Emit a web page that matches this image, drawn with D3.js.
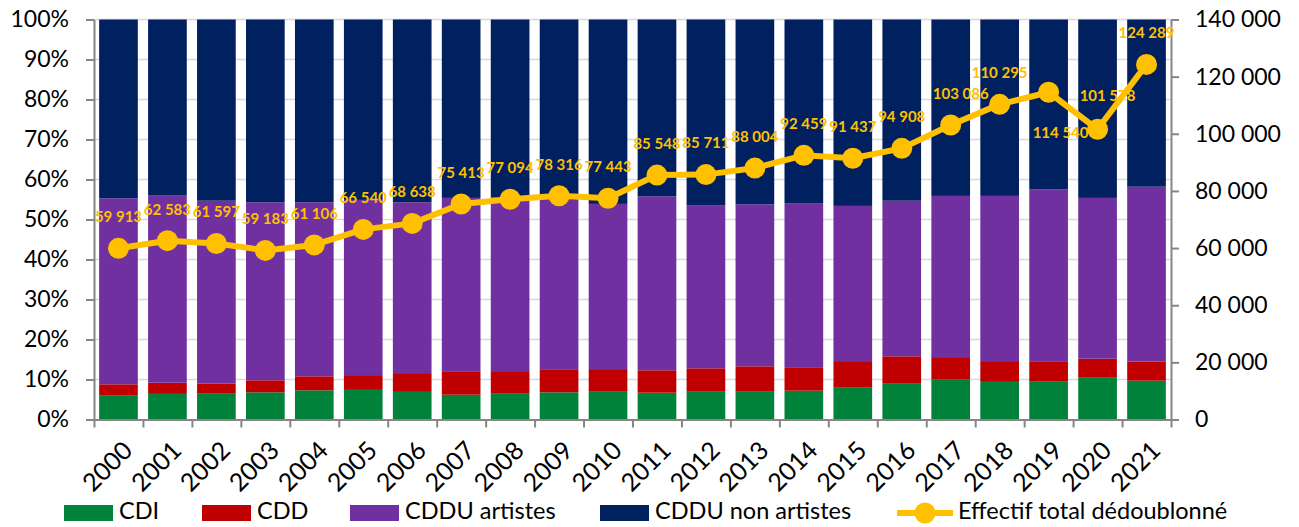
<!DOCTYPE html>
<html lang="fr">
<head>
<meta charset="utf-8">
<script src="https://cdn.jsdelivr.net/npm/d3@7"></script>
<style>
  html, body { margin: 0; padding: 0; background: #fff; }
  svg { display: block; font-family: Lato, "Open Sans", sans-serif; }
</style>
</head>
<body>
<svg id="chart" width="1299" height="527"></svg>
<script>
// Years on the x axis
const years = ["2000","2001","2002","2003","2004","2005","2006","2007","2008","2009","2010",
               "2011","2012","2013","2014","2015","2016","2017","2018","2019","2020","2021"];

// Share of each contract type (in %), stacked bottom to top
const cdi          = [6.1, 6.4, 6.6, 6.8, 7.3, 7.4, 6.9, 6.2, 6.6, 6.8, 7.1, 6.7, 7.1, 7.1, 7.2, 8.1, 9.1, 10.1, 9.4, 9.6, 10.6, 9.7];
const cdd          = [2.7, 2.8, 2.4, 3.0, 3.5, 3.7, 4.7, 5.7, 5.5, 5.6, 5.5, 5.6, 5.7, 6.2, 5.7, 6.5, 6.7, 5.5, 5.2, 4.8, 4.6, 4.8];
const cdduArt      = [46.5, 46.9, 45.7, 44.5, 43.5, 43.8, 42.7, 43.5, 43.4, 43.3, 41.3, 43.5, 40.8, 40.5, 41.2, 38.8, 38.9, 40.3, 41.3, 43.1, 40.2, 43.7];
const cdduNonArt   = [44.7, 43.9, 45.3, 45.7, 45.7, 45.1, 45.7, 44.6, 44.5, 44.3, 46.1, 44.2, 46.4, 46.2, 45.9, 46.6, 45.3, 44.1, 44.1, 42.5, 44.6, 41.8];

// Total headcount (right axis)
const effectif = [59913, 62583, 61597, 59183, 61106, 66540, 68638, 75413, 77094, 78316, 77443,
                  85548, 85711, 88004, 92459, 91437, 94908, 103086, 110295, 114540, 101578, 124289];

// Axis ticks
const pctTicks = [0, 0.1, 0.2, 0.3, 0.4, 0.5, 0.6, 0.7, 0.8, 0.9, 1];
const countTicks = [0, 20000, 40000, 60000, 80000, 100000, 120000, 140000];

// Series names and colours
const seriesNames  = ["CDI", "CDD", "CDDU artistes", "CDDU non artistes"];
const seriesColors = ["#00823B", "#C00000", "#7030A0", "#002060"];
const lineName = "Effectif total dédoublonné";
const lineColor = "#FFC000";

// Label nudges (px) for a few crowded points
const labelNudge = { "2017": [10, 0], "2019": [12, 72], "2020": [10, -2] };

const svg = d3.select("#chart");
const plotLeft = 94, plotRight = 1171, plotTop = 19.5, plotBottom = 419.5;
const FONT = 23;

const fr = d3.formatLocale({ decimal: ",", thousands: " ", grouping: [3], currency: ["", " €"] });
const fmtCount = fr.format(",d");

const x = d3.scaleBand().domain(years).range([plotLeft, plotRight]).paddingInner(0.21).paddingOuter(0.105);
const xEdge = d3.scaleLinear().domain([0, years.length]).range([plotLeft, plotRight]);
const yPct = d3.scaleLinear().domain([0, 1]).range([plotBottom, plotTop]);
const yCount = d3.scaleLinear().domain([0, 140000]).range([plotBottom, plotTop]);

// Stacked data (normalized to 100 %)
const rows = years.map((yr, i) => {
  const vals = [cdi[i], cdd[i], cdduArt[i], cdduNonArt[i]];
  const tot = d3.sum(vals);
  const r = { year: yr };
  seriesNames.forEach((n, k) => r[n] = vals[k] / tot);
  return r;
});
const stacked = d3.stack().keys(seriesNames)(rows);

// Horizontal gridlines
svg.append("g").selectAll("line").data(pctTicks.slice(1)).join("line")
  .attr("x1", plotLeft).attr("x2", plotRight)
  .attr("y1", d => yPct(d)).attr("y2", d => yPct(d))
  .attr("stroke", "#D9D9D9").attr("stroke-width", 1.5);

// Bars
svg.append("g").selectAll("g").data(stacked).join("g")
  .attr("fill", (d, i) => seriesColors[i])
  .selectAll("rect").data(d => d).join("rect")
  .attr("x", d => x(d.data.year))
  .attr("width", x.bandwidth())
  .attr("y", d => yPct(d[1]))
  .attr("height", d => yPct(d[0]) - yPct(d[1]));

// Axes
const axisColor = "#868686";
function styleAxis(g) {
  g.selectAll(".domain").attr("stroke", axisColor).attr("stroke-width", 2);
  g.selectAll(".tick line").attr("stroke", axisColor).attr("stroke-width", 2);
  g.selectAll("text").attr("fill", "#000").style("font-size", FONT + "px").style("font-family", "Lato, sans-serif");
}

svg.append("g").attr("transform", `translate(${plotLeft},0)`)
  .call(d3.axisLeft(yPct).tickValues(pctTicks).tickFormat(d3.format(".0%")).tickSize(8).tickSizeOuter(0).tickPadding(17))
  .call(styleAxis);

svg.append("g").attr("transform", `translate(${plotRight},0)`)
  .call(d3.axisRight(yCount).tickValues(countTicks).tickFormat(fmtCount).tickSize(8).tickSizeOuter(0).tickPadding(16))
  .call(styleAxis);

// x axis: ticks between categories
svg.append("g").attr("transform", `translate(0,${plotBottom})`)
  .call(d3.axisBottom(xEdge).tickValues(d3.range(years.length + 1)).tickFormat("").tickSize(8).tickSizeOuter(0))
  .call(styleAxis);

// x axis: rotated year labels
const xl = svg.append("g").attr("transform", `translate(0,${plotBottom})`)
  .call(d3.axisBottom(x).tickSize(0).tickPadding(0))
  .call(styleAxis);
xl.select(".domain").remove();
xl.selectAll("text")
  .style("font-size", "25px")
  .attr("text-anchor", "end")
  .attr("dy", null)
  .attr("y", 0)
  .attr("transform", "translate(11,28) rotate(-45)")
  .attr("dominant-baseline", "middle");

// Line on the right axis
const line = d3.line().x((d, i) => x(years[i]) + x.bandwidth() / 2).y(d => yCount(d));
svg.append("path").datum(effectif)
  .attr("d", line).attr("fill", "none")
  .attr("stroke", lineColor).attr("stroke-width", 6).attr("stroke-linejoin", "round");

svg.append("g").selectAll("circle").data(effectif).join("circle")
  .attr("cx", (d, i) => x(years[i]) + x.bandwidth() / 2)
  .attr("cy", d => yCount(d))
  .attr("r", 10.5)
  .attr("fill", lineColor);

// Value labels
svg.append("g").selectAll("text").data(effectif).join("text")
  .attr("x", (d, i) => x(years[i]) + x.bandwidth() / 2 + (labelNudge[years[i]] || [0, 0])[0])
  .attr("y", (d, i) => yCount(d) - 30 + (labelNudge[years[i]] || [0, 0])[1])
  .attr("text-anchor", "middle")
  .attr("dominant-baseline", "middle")
  .attr("fill", lineColor)
  .style("font-weight", "bold")
  .style("font-size", "15px")
  .text(d => fmtCount(d));

// Legend
const legendY = 513;
const legendFont = 23.5;
const legendItems = [
  { name: seriesNames[0], color: seriesColors[0], x: 64 },
  { name: seriesNames[1], color: seriesColors[1], x: 202 },
  { name: seriesNames[2], color: seriesColors[2], x: 350 },
  { name: seriesNames[3], color: seriesColors[3], x: 600 }
];
const lg = svg.append("g");
legendItems.forEach(it => {
  lg.append("rect").attr("x", it.x).attr("y", legendY - 8).attr("width", 49).attr("height", 16).attr("fill", it.color);
  lg.append("text").attr("x", it.x + 55).attr("y", legendY).attr("dominant-baseline", "middle")
    .style("font-size", legendFont + "px").attr("fill", "#000").text(it.name);
});
lg.append("line").attr("x1", 897).attr("x2", 953).attr("y1", legendY).attr("y2", legendY)
  .attr("stroke", lineColor).attr("stroke-width", 6);
lg.append("circle").attr("cx", 925).attr("cy", legendY).attr("r", 10.5).attr("fill", lineColor);
lg.append("text").attr("x", 958).attr("y", legendY).attr("dominant-baseline", "middle")
  .style("font-size", legendFont + "px").attr("fill", "#000").text(lineName);
</script>
</body>
</html>
